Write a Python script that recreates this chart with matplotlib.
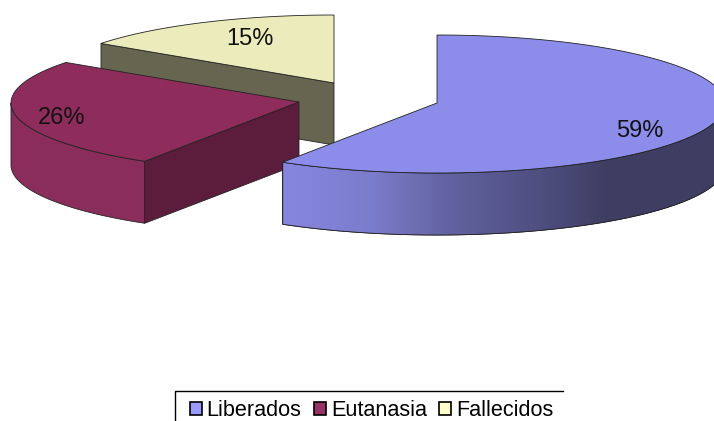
import numpy as np
import matplotlib
matplotlib.use("Agg")
import matplotlib.pyplot as plt
from matplotlib.colors import LinearSegmentedColormap
from matplotlib.patches import Patch, Polygon

categories = ["Liberados", "Eutanasia", "Fallecidos"]
values = [59, 26, 15]
labels = ["59%", "26%", "15%"]

legend_colors = ["#9999FF", "#993366", "#FFFFCC"]
top_colors = ["#8C8CEB", "#8E2D5C", "#EBEBBB"]
face_colors = ["#3E3E62", "#5C1D3C", "#666650"]
side_colors = ["#8686E0", "#8B2D5B", "#666650"]

# pixel geometry of the exploded slices
apex = [(437, 103), (299, 102), (334, 83)]
label_pos = [(640, 131), (62, 118), (250, 39)]
rx, ry, depth = 288, 69, 62
edge = "#222222"

plt.rcParams["font.family"] = ["Liberation Sans", "DejaVu Sans"]
fig = plt.figure(figsize=(7.14, 4.21), dpi=100)
ax = fig.add_axes([0, 0, 1, 1])


def arc(center, a0, a1):
    t = np.radians(np.linspace(a0, a1, 200))
    return np.column_stack([center[0] + rx * np.sin(t), center[1] + 1 - ry * np.cos(t)])


ends = np.cumsum(values) / np.sum(values) * 360
starts = np.r_[0, ends[:-1]]
lift = np.array([0, depth])

# back to front: yellow, maroon, blue
for i in [2, 1, 0]:
    a0, a1 = starts[i], ends[i]
    c = np.array(apex[i])
    top = np.vstack([c, arc(c, a0, a1)])
    z = i * -3 + 10

    # outer rim, only the part facing the viewer
    v0, v1 = max(a0, 90), min(a1, 270)
    if v1 > v0:
        rim = arc(c, v0, v1)
        rim_poly = Polygon(np.vstack([rim, rim[::-1] + lift]), closed=True,
                           facecolor=side_colors[i], edgecolor=edge, lw=0.6, zorder=z)
        ax.add_patch(rim_poly)
        if i == 0:
            stops = [(284, "#8686E0"), (370, "#7C7CCC"), (450, "#6262A0"),
                     (560, "#4A4A78"), (610, "#3E3E62"), (714, "#3E3E62")]
            cmap = LinearSegmentedColormap.from_list(
                "rim", [((x - 284) / 430, col) for x, col in stops])
            shade = ax.imshow(np.linspace(0, 1, 430)[None, :], cmap=cmap, aspect="auto",
                              extent=(284, 714, 240, 100), zorder=z + 0.1)
            shade.set_clip_path(rim_poly)
            ax.add_patch(Polygon(np.vstack([rim, rim[::-1] + lift]), closed=True, fill=False,
                                 edgecolor=edge, lw=0.6, zorder=z + 0.2))

    # flat cut face that shows toward the viewer
    if i > 0:
        p = arc(c, a0, a0 + 0.01)[0]
        ax.add_patch(Polygon([c, p, p + lift, c + lift], closed=True,
                             facecolor=face_colors[i], edgecolor=edge, lw=0.6, zorder=z + 0.3))

    ax.add_patch(Polygon(top, closed=True, facecolor=top_colors[i], edgecolor=edge,
                         lw=0.6, zorder=z + 0.5))

for lab, pos in zip(labels, label_pos):
    ax.text(pos[0], pos[1], lab, fontsize=17, color="#111111", ha="center", va="center", zorder=20)

# legend frame runs off the bottom of the picture and has no right side
ax.plot([563, 175, 175], [391, 391, 421], color="black", lw=1.0, zorder=20, clip_on=False)
handles = [Patch(facecolor=col, edgecolor="black", lw=1.2) for col in legend_colors]
ax.legend(handles, categories, ncol=3, frameon=False, fontsize=15.6,
          loc="lower left", bbox_to_anchor=(190, 421), bbox_transform=ax.transData,
          borderaxespad=0, borderpad=0, handlelength=0.55, handleheight=0.55,
          handletextpad=0.22, columnspacing=0.58)

ax.set_xlim(0, 714)
ax.set_ylim(421, 0)
ax.axis("off")

fig.savefig("out.png", dpi=100)
